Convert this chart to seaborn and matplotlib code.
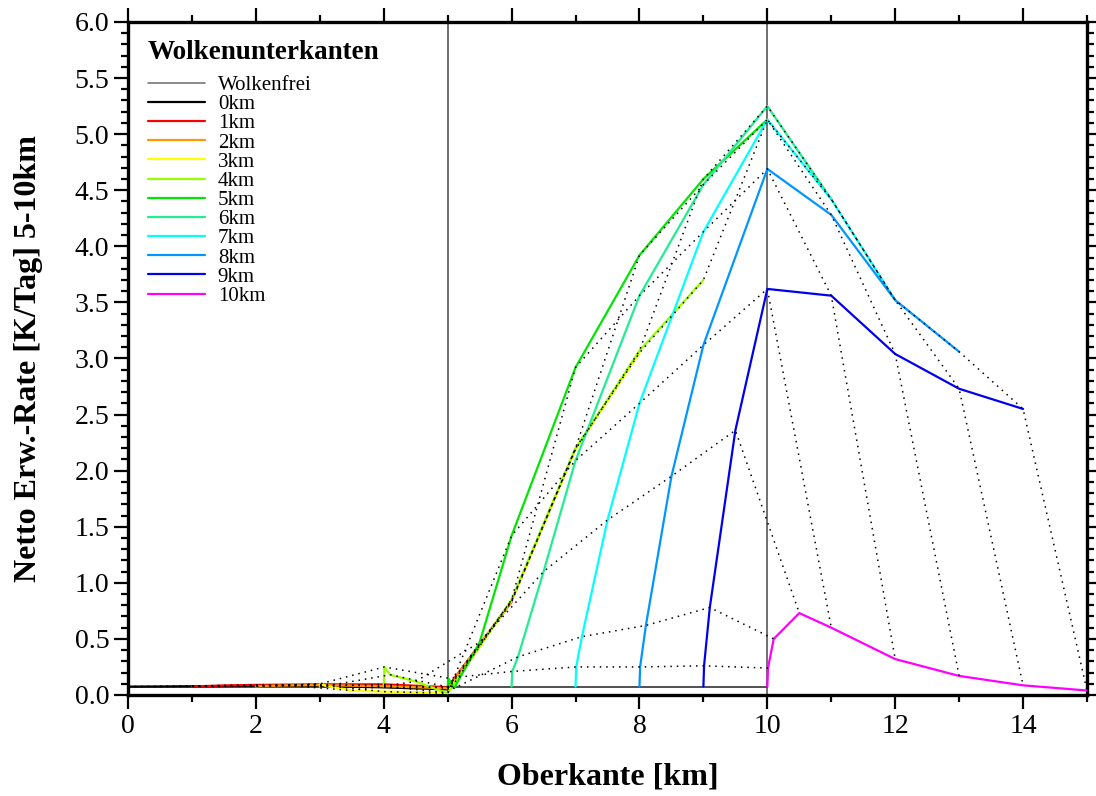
import matplotlib
matplotlib.use("Agg")
import matplotlib.pyplot as plt
import pandas as pd
import seaborn as sns
from matplotlib.lines import Line2D
from matplotlib.ticker import MultipleLocator, FormatStrFormatter

# Cloud thickness steps (km) added to each cloud base to give the cloud top
thickness = [0.0, 0.01, 0.1, 0.5, 1.0, 2.0, 3.0, 4.0, 5.0]

# Cloud bases (km) and their styling
bases = [0, 1, 2, 3, 4, 5, 6, 7, 8, 9, 10]
base_labels = ["0km", "1km", "2km", "3km", "4km", "5km", "6km", "7km", "8km", "9km", "10km"]
base_colors = ["#000000", "#ff0000", "#ff9900", "#ffff00", "#99ff00", "#00e600",
               "#20ee90", "#00ffff", "#0096ff", "#0000ee", "#ff00ff"]

# Net heating rate in the 5-10 km layer [K/day], one list per cloud base,
# ordered like `thickness`
rate_0km = [0.075, 0.075, 0.075, 0.076, 0.078, 0.082, 0.080, 0.068, 0.050]
rate_1km = [0.075, 0.076, 0.078, 0.085, 0.090, 0.095, 0.095, 0.070, 0.830]
rate_2km = [0.075, 0.077, 0.080, 0.085, 0.088, 0.078, 0.060, 0.840, 2.200]
rate_3km = [0.075, 0.100, 0.080, 0.040, 0.030, 0.020, 0.840, 2.190, 3.050]
rate_4km = [0.075, 0.250, 0.180, 0.120, 0.015, 0.850, 2.200, 3.070, 3.700]
rate_5km = [0.075, 0.150, 0.060, 0.470, 1.420, 2.920, 3.920, 4.600, 5.130]
rate_6km = [0.075, 0.210, 0.340, 1.100, 2.090, 3.560, 4.550, 5.250, 4.420]
rate_7km = [0.075, 0.250, 0.520, 1.560, 2.600, 4.130, 5.130, 4.420, 3.520]
rate_8km = [0.075, 0.250, 0.620, 1.950, 3.120, 4.690, 4.280, 3.520, 3.060]
rate_9km = [0.075, 0.260, 0.780, 2.360, 3.620, 3.560, 3.040, 2.730, 2.550]
rate_10km = [0.075, 0.240, 0.500, 0.730, 0.600, 0.320, 0.170, 0.086, 0.040]

rates = [rate_0km, rate_1km, rate_2km, rate_3km, rate_4km, rate_5km,
         rate_6km, rate_7km, rate_8km, rate_9km, rate_10km]

# Cloud-free reference rate
clear_x = [0, 10]
clear_y = [0.075, 0.075]

# Layer boundaries
layer_bounds = [5, 10]

rows = []
for b, lab, vals in zip(bases, base_labels, rates):
    for d, v in zip(thickness, vals):
        rows.append({"base": lab, "thick": d, "top": b + d, "rate": v})
df = pd.DataFrame(rows)

sns.set_style("ticks")
plt.rcParams["font.family"] = ["Liberation Serif", "DejaVu Serif"]
plt.rcParams["axes.linewidth"] = 2.4
plt.rcParams["text.color"] = "black"
plt.rcParams["axes.labelcolor"] = "black"

fig = plt.figure(figsize=(10.96, 7.96), dpi=100)
ax = fig.add_axes([0.1168, 0.1269, 0.8750, 0.8455])

for xb in layer_bounds:
    ax.axvline(xb, color="#707070", lw=1.4, zorder=1)

sns.lineplot(data=pd.DataFrame({"top": clear_x, "rate": clear_y}), x="top", y="rate",
             color="#222222", lw=1.1, ax=ax, zorder=2)

palette = dict(zip(base_labels, base_colors))
sns.lineplot(data=df, x="top", y="rate", hue="base", hue_order=base_labels,
             palette=palette, estimator=None, sort=False, legend=False,
             lw=1.6, ax=ax, zorder=3)

# Isolines of equal cloud thickness
iso = df[df["thick"] > 0]
sns.lineplot(data=iso, x="top", y="rate", units="thick", estimator=None, sort=False,
             color="black", lw=1.1, linestyle=(0, (1, 3.2)),
             legend=False, ax=ax, zorder=4)

ax.set_xlim(0, 15)
ax.set_ylim(0, 6)
ax.xaxis.set_major_locator(MultipleLocator(2))
ax.xaxis.set_minor_locator(MultipleLocator(1))
ax.yaxis.set_major_locator(MultipleLocator(0.5))
ax.yaxis.set_minor_locator(MultipleLocator(0.1))
ax.yaxis.set_major_formatter(FormatStrFormatter("%.1f"))
ax.tick_params(which="both", direction="out", top=True, right=True,
               labeltop=False, labelright=False, width=1.6, labelsize=20, colors="black")
ax.tick_params(which="major", length=10)
ax.tick_params(which="minor", length=5)
for s in ax.spines.values():
    s.set_visible(True)
    s.set_color("black")
    s.set_linewidth(2.4)

ax.set_xlabel("Oberkante [km]", fontsize=23, fontweight="bold", color="black")
ax.set_ylabel("Netto Erw.-Rate [K/Tag] 5-10km", fontsize=23, fontweight="bold", color="black")
ax.xaxis.set_label_coords(0.5, -0.101)
ax.yaxis.set_label_coords(-0.089, 0.5)

handles = [Line2D([], [], color="#777777", lw=1.2)]
handles += [Line2D([], [], color=c, lw=1.6) for c in base_colors]
labels = ["Wolkenfrei"] + base_labels
leg = ax.legend(handles, labels, title="Wolkenunterkanten", loc="upper left",
                bbox_to_anchor=(-0.005, 1.010), frameon=False, fontsize=15,
                title_fontproperties={"weight": "bold", "size": 19.5},
                handlelength=2.75, handletextpad=0.6, labelspacing=-0.02,
                borderpad=1.19, borderaxespad=0, labelcolor="black")
leg.get_title().set_color("black")
leg._legend_box.align = "left"
# extra room between the legend title and its entries
leg._legend_box.sep = 7.5

fig.savefig("out.png", dpi=100)
